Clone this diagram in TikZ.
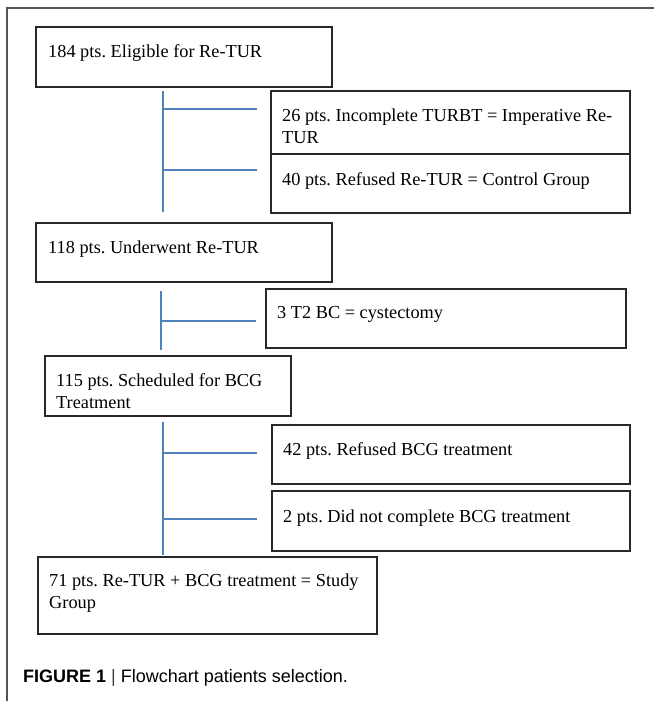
\documentclass[tikz,border=0pt]{standalone}
\usepackage{fontspec}
\setmainfont{Liberation Serif}
\newfontfamily\capfont{Liberation Sans}
\definecolor{lineblue}{RGB}{79,129,189}
\definecolor{boxline}{RGB}{40,40,40}
\definecolor{framegray}{RGB}{85,85,85}
\tikzset{
  fbox/.style={draw=boxline, line width=1.6pt, inner sep=0pt, outer sep=0pt, anchor=north west},
  ftext/.style={anchor=base west, inner sep=0pt, font=\fontsize{18.3}{22}\selectfont\frenchspacing},
  blueline/.style={draw=lineblue, line width=2.6pt},
}
\newcommand{\twolines}[2]{\parbox[t]{360pt}{\frenchspacing\baselineskip=22pt #1\\#2}}
\begin{document}
\begin{tikzpicture}[x=1pt,y=-1pt]
\useasboundingbox (0,0) rectangle (654,701);
% frame
\draw[framegray, line width=2pt] (654,8) -- (7,8) -- (7,701);
% boxes
\node[fbox, minimum width=296pt, minimum height=60pt] (b1) at (36,27) {};
\node[fbox, minimum width=359pt, minimum height=63pt] (b2) at (271,91) {};
\node[fbox, minimum width=359pt, minimum height=59pt] (b3) at (271,154) {};
\node[fbox, minimum width=296pt, minimum height=59pt] (b4) at (36,223) {};
\node[fbox, minimum width=360pt, minimum height=59pt] (b5) at (266,289) {};
\node[fbox, minimum width=246pt, minimum height=60pt] (b6) at (45,356) {};
\node[fbox, minimum width=358pt, minimum height=59pt] (b7) at (272,425) {};
\node[fbox, minimum width=358pt, minimum height=60pt] (b8) at (272,491) {};
\node[fbox, minimum width=339pt, minimum height=77pt] (b9) at (38,557) {};
% texts
\node[ftext] (t1) at (48,57) {184 pts. Eligible for Re-TUR};
\node[ftext] (t2) at (282,121) {\twolines{26 pts. Incomplete TURBT = Imperative Re-}{TUR}};
\node[ftext] (t3) at (282,185) {40 pts. Refused Re-TUR = Control Group};
\node[ftext] (t4) at (48,253) {118 pts. Underwent Re-TUR};
\node[ftext] (t5) at (277,318) {3 T2 BC = cystectomy};
\node[ftext] (t6) at (56,386) {\twolines{115 pts. Scheduled for BCG}{Treatment}};
\node[ftext] (t7) at (283,455) {42 pts. Refused BCG treatment};
\node[ftext] (t8) at (283,522) {2 pts. Did not complete BCG treatment};
\node[ftext] (t9) at (49,586) {\twolines{71 pts. Re-TUR + BCG treatment = Study}{Group}};
% blue connectors
\coordinate (v1a) at (163,91);  \coordinate (v1b) at (163,212);
\coordinate (h1a) at (163,109); \coordinate (h1b) at (257,109);
\coordinate (h2a) at (163,170); \coordinate (h2b) at (257,170);
\coordinate (v2a) at (161,291); \coordinate (v2b) at (161,350);
\coordinate (h3a) at (161,321); \coordinate (h3b) at (256,321);
\coordinate (v3a) at (163,422); \coordinate (v3b) at (163,555);
\coordinate (h4a) at (163,453); \coordinate (h4b) at (257,453);
\coordinate (h5a) at (163,519); \coordinate (h5b) at (257,519);
\draw[blueline] (v1a) -- (v1b);
\draw[blueline] (h1a) -- (h1b);
\draw[blueline] (h2a) -- (h2b);
\draw[blueline] (v2a) -- (v2b);
\draw[blueline] (h3a) -- (h3b);
\draw[blueline] (v3a) -- (v3b);
\draw[blueline] (h4a) -- (h4b);
\draw[blueline] (h5a) -- (h5b);
% caption
\node[anchor=base west, inner sep=0pt, font=\capfont\fontsize{18}{22}\selectfont] (cap) at (23,682)
  {\textbf{FIGURE 1} {\color{black!75}|} Flowchart patients selection.};
\end{tikzpicture}
\end{document}
